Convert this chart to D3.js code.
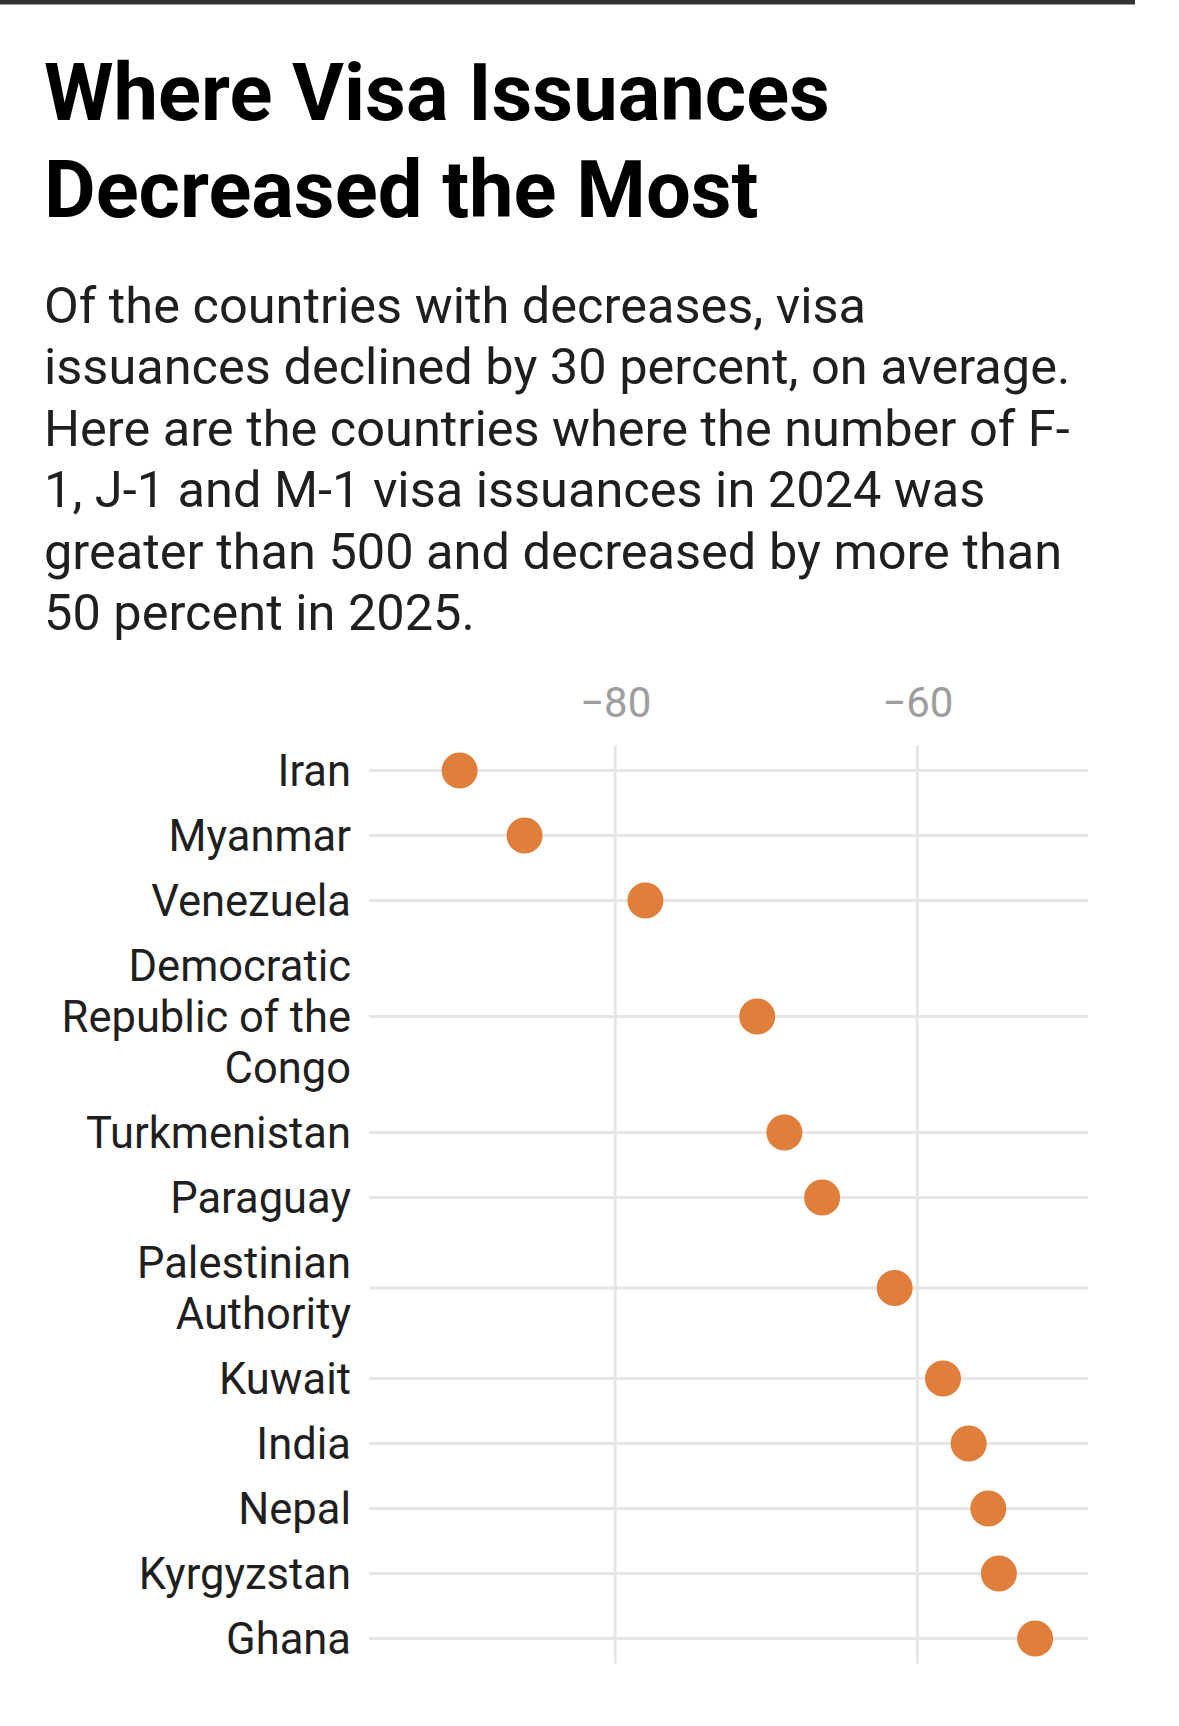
<!DOCTYPE html>
<html>
<head>
<meta charset="utf-8">
<script src="https://cdn.jsdelivr.net/npm/d3@7"></script>
<style>
  body { margin: 0; background: #fff; }
  svg { display: block; font-family: Roboto, "Noto Sans", sans-serif; }
</style>
</head>
<body>
<div id="chart"></div>
<script>
// Chart data
var countries = ["Iran", "Myanmar", "Venezuela", "Democratic Republic of the Congo",
  "Turkmenistan", "Paraguay", "Palestinian Authority", "Kuwait", "India", "Nepal",
  "Kyrgyzstan", "Ghana"];
var changes = [-90.3, -86.0, -78.0, -70.6, -68.8, -66.3, -61.5, -58.3, -56.6, -55.3, -54.6, -52.2];
var tickValues = [-80, -60];

var titleLines = ["Where Visa Issuances", "Decreased the Most"];
var subtitleLines = [
  "Of the countries with decreases, visa",
  "issuances declined by 30 percent, on average.",
  "Here are the countries where the number of F-",
  "1, J-1 and M-1 visa issuances in 2024 was",
  "greater than 500 and decreased by more than",
  "50 percent in 2025."
];

var data = countries.map(function(c, i) { return { country: c, value: changes[i] }; });

// SVG area
var svgWidth = 1179;
var svgHeight = 1726;

var svg = d3.select("#chart")
  .append("svg")
  .attr("width", svgWidth)
  .attr("height", svgHeight);

svg.append("rect")
  .attr("width", svgWidth)
  .attr("height", svgHeight)
  .attr("fill", "#fff");

// dark rule across the top
svg.append("rect")
  .attr("x", 0)
  .attr("y", 0)
  .attr("width", 1135)
  .attr("height", 4.5)
  .attr("fill", "#333");

// Title
svg.append("text")
  .attr("x", 44)
  .attr("y", 120)
  .attr("font-size", 79.5)
  .attr("font-weight", 700)
  .attr("fill", "#000")
  .selectAll("tspan")
  .data(titleLines)
  .join("tspan")
  .attr("x", 44)
  .attr("dy", function(d, i) { return i ? 97 : 0; })
  .text(function(d) { return d; });

// Subtitle
svg.append("text")
  .attr("x", 44)
  .attr("y", 323)
  .attr("font-size", 50.5)
  .attr("fill", "#1f1f1f")
  .selectAll("tspan")
  .data(subtitleLines)
  .join("tspan")
  .attr("x", 44)
  .attr("dy", function(d, i) { return i ? 61.4 : 0; })
  .text(function(d) { return d; });

// Chart geometry
var labelRight = 351;
var rowBase = 65;     // height of a one-line row
var lineStep = 51;    // extra height per extra label line
var firstTop = 738;
var labelSize = 43.5;
var wrapWidth = 310;

// x scale
var xScale = d3.scaleLinear()
  .domain([-96.3, -48.7])
  .range([369, 1088]);

// wrap the country labels to find out how many lines each needs
var measure = svg.append("text").attr("font-size", labelSize).attr("visibility", "hidden");
function wrapLabel(str) {
  var words = str.split(" ");
  var lines = [];
  var line = [];
  words.forEach(function(w) {
    var test = line.concat([w]).join(" ");
    measure.text(test);
    if (line.length && measure.node().getComputedTextLength() > wrapWidth) {
      lines.push(line.join(" "));
      line = [w];
    } else {
      line.push(w);
    }
  });
  lines.push(line.join(" "));
  return lines;
}
data.forEach(function(d) { d.lines = wrapLabel(d.country); });
measure.remove();

// row centres from the stacked row heights
var centers = [];
var rowTop = firstTop;
data.forEach(function(d) {
  var h = rowBase + (d.lines.length - 1) * lineStep;
  centers.push(rowTop + h / 2);
  rowTop += h;
});

var yScale = d3.scaleOrdinal()
  .domain(countries)
  .range(centers);

var gridTop = centers[0] - 25;
var gridBottom = centers[centers.length - 1] + 25;

// tick labels via the axis
var topAxis = d3.axisTop(xScale)
  .tickValues(tickValues)
  .tickSize(0)
  .tickPadding(0);

var axisGroup = svg.append("g")
  .attr("transform", "translate(0, 716.5)")
  .call(topAxis);

axisGroup.select(".domain").remove();
axisGroup.selectAll("text")
  .attr("font-family", "Roboto, sans-serif")
  .attr("font-size", 42)
  .attr("fill", "#9e9e9e")
  .attr("dy", 0);

// vertical gridlines
svg.append("g")
  .selectAll("line")
  .data(tickValues)
  .join("line")
  .attr("x1", function(d) { return xScale(d); })
  .attr("x2", function(d) { return xScale(d); })
  .attr("y1", gridTop)
  .attr("y2", gridBottom)
  .attr("stroke", "#e6e6e6")
  .attr("stroke-width", 3);

// horizontal row lines
svg.append("g")
  .selectAll("line")
  .data(data)
  .join("line")
  .attr("x1", xScale.range()[0])
  .attr("x2", xScale.range()[1])
  .attr("y1", function(d) { return yScale(d.country); })
  .attr("y2", function(d) { return yScale(d.country); })
  .attr("stroke", "#e6e6e6")
  .attr("stroke-width", 3);

// country labels
var labels = svg.append("g")
  .selectAll("text")
  .data(data)
  .join("text")
  .attr("text-anchor", "end")
  .attr("font-size", labelSize)
  .attr("fill", "#1f1f1f")
  .attr("y", function(d) {
    return yScale(d.country) + 15.5 - (d.lines.length - 1) * lineStep / 2;
  });

labels.selectAll("tspan")
  .data(function(d) { return d.lines; })
  .join("tspan")
  .attr("x", labelRight)
  .attr("dy", function(d, i) { return i ? lineStep : 0; })
  .text(function(d) { return d; });

// dots
svg.append("g")
  .selectAll("circle")
  .data(data)
  .join("circle")
  .attr("cx", function(d) { return xScale(d.value); })
  .attr("cy", function(d) { return yScale(d.country); })
  .attr("r", 18)
  .attr("fill", "#e07e3c");
</script>
</body>
</html>
